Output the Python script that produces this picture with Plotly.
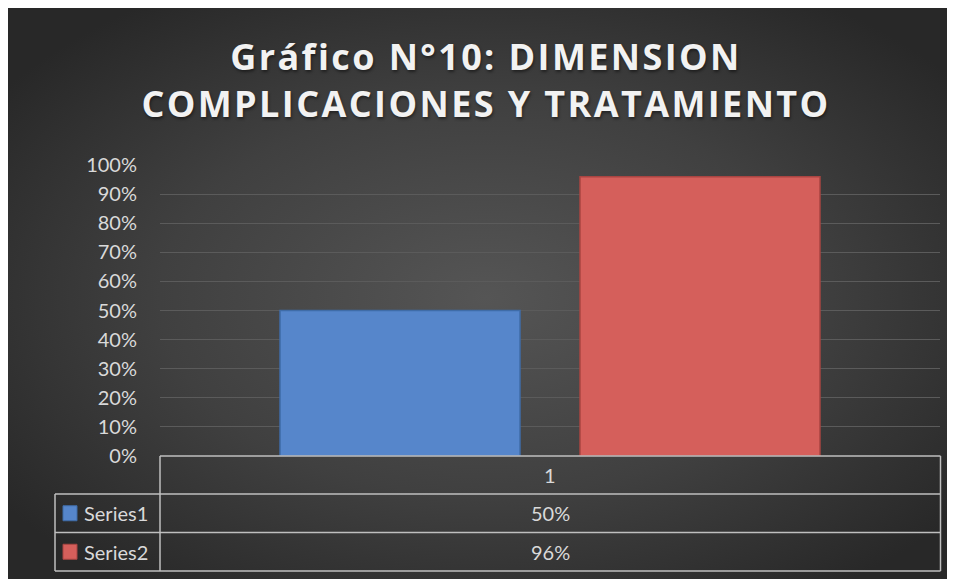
import base64
import plotly.graph_objects as go

# ---- data ----
categories = ["1"]
series_names = ["Series1", "Series2"]
series1_values = [0.50]
series2_values = [0.96]
y_tick_values = [0, 0.1, 0.2, 0.3, 0.4, 0.5, 0.6, 0.7, 0.8, 0.9, 1.0]
y_tick_labels = ["0%", "10%", "20%", "30%", "40%", "50%", "60%", "70%", "80%", "90%", "100%"]
title_lines = ["Gráfico N°10: DIMENSION", "COMPLICACIONES Y TRATAMIENTO"]

# ---- styling ----
W, H = 955, 579
OFF = 8  # page body margin
ML, MR, MT, MB = 152, 23, 157, 131
PW = W - ML - MR
PH = H - MT - MB
FONT = "Lato, 'Open Sans', sans-serif"
TITLE_FONT = "'Open Sans', Lato, sans-serif"
TXT = "#d9d9d9"
LINE = "#bfbfbf"

def fx(sx):  # screen x -> paper x
    return (sx - OFF - ML) / PW

def fy(sy):  # screen y -> paper y
    return (H - MB - (sy - OFF)) / PH

svg = '''<svg xmlns="http://www.w3.org/2000/svg" width="955" height="579" viewBox="0 0 955 579" preserveAspectRatio="none">
<defs><radialGradient id="g" cx="50%" cy="50%" r="62%">
<stop offset="0%" stop-color="#555555"/>
<stop offset="55%" stop-color="#404040"/>
<stop offset="100%" stop-color="#282828"/>
</radialGradient></defs>
<rect width="955" height="579" fill="url(#g)"/></svg>'''
bg_src = "data:image/svg+xml;base64," + base64.b64encode(svg.encode()).decode()

colors = ["#5686cb", "#d55f5b"]
line_colors = ["#3f6ca8", "#a94542"]
values = [series1_values, series2_values]

fig = go.Figure()
for name, vals, c, lc in zip(series_names, values, colors, line_colors):
    fig.add_trace(go.Bar(
        x=categories, y=vals, name=name,
        marker=dict(color=c, line=dict(color=lc, width=1.5)),
        showlegend=False, hoverinfo="skip",
    ))

shapes = []
x0t, xl, x1t = fx(160), fx(55), fx(940.5)
yh, y1, y2, y3 = fy(456), fy(494), fy(532.5), fy(571)
def ln(xa, ya, xb, yb):
    return dict(type="line", xref="paper", yref="paper", x0=xa, y0=ya, x1=xb, y1=yb,
                line=dict(color=LINE, width=1.5), layer="above")
shapes += [
    ln(x0t, yh, x1t, yh),
    ln(xl, y1, x1t, y1),
    ln(xl, y2, x1t, y2),
    ln(xl, y3, x1t, y3),
    ln(x0t, yh, x0t, y3),
    ln(xl, y1, xl, y3),
    ln(x1t, yh, x1t, y3),
]
row_centers = [(y1 + y2) / 2, (y2 + y3) / 2]
for c, lc, yc in zip(colors, line_colors, row_centers):
    shapes.append(dict(type="rect", xref="paper", yref="paper",
                       x0=fx(63), x1=fx(77), y0=yc - 7.5 / PH, y1=yc + 7.5 / PH,
                       fillcolor=c, line=dict(color=lc, width=1)))

annotations = []
mid = (x0t + x1t) / 2
tf = dict(family=FONT, size=20, color=TXT)
annotations.append(dict(xref="paper", yref="paper", x=mid, y=(yh + y1) / 2, text=categories[0],
                        showarrow=False, yanchor="middle", font=tf))
for name, vals, yc in zip(series_names, values, row_centers):
    annotations.append(dict(xref="paper", yref="paper", x=fx(82), y=yc, text=name,
                            xanchor="left", yanchor="middle", showarrow=False, font=tf))
    annotations.append(dict(xref="paper", yref="paper", x=mid, y=yc, text=f"{vals[0]:.0%}",
                            yanchor="middle", showarrow=False, font=tf))

title_html = "<br>".join(
    f'<span style="letter-spacing:2.4px">{t}</span>' for t in title_lines)

fig.update_layout(
    width=W, height=H,
    margin=dict(l=ML, r=MR, t=MT, b=MB, autoexpand=False),
    paper_bgcolor="#333333",
    plot_bgcolor="rgba(0,0,0,0)",
    images=[dict(source=bg_src, xref="paper", yref="paper",
                 x=-ML / PW, y=1 + MT / PH, sizex=W / PW, sizey=H / PH,
                 sizing="stretch", layer="below", xanchor="left", yanchor="top")],
    title=dict(text=title_html, x=(486 - OFF) / W, xanchor="center",
               y=1 - 62 / H, yanchor="top",
               font=dict(family=TITLE_FONT, size=36, color="#f2f2f2", weight="bold",
                         shadow="1px 2px 3px rgba(0,0,0,0.45)")),
    barmode="group", bargap=0.2308, bargroupgap=0.2,
    xaxis=dict(showticklabels=False, showgrid=False, zeroline=False, showline=False,
               fixedrange=True),
    yaxis=dict(range=[0, 1], tickvals=y_tick_values, ticktext=y_tick_labels,
               showgrid=True, gridcolor="#5b5b5b", gridwidth=1, zeroline=False,
               showline=False, ticks="", ticklabelstandoff=22,
               tickfont=dict(family=FONT, size=20, color=TXT)),
    shapes=shapes, annotations=annotations,
    showlegend=False,
)

fig.write_html("out.html")
